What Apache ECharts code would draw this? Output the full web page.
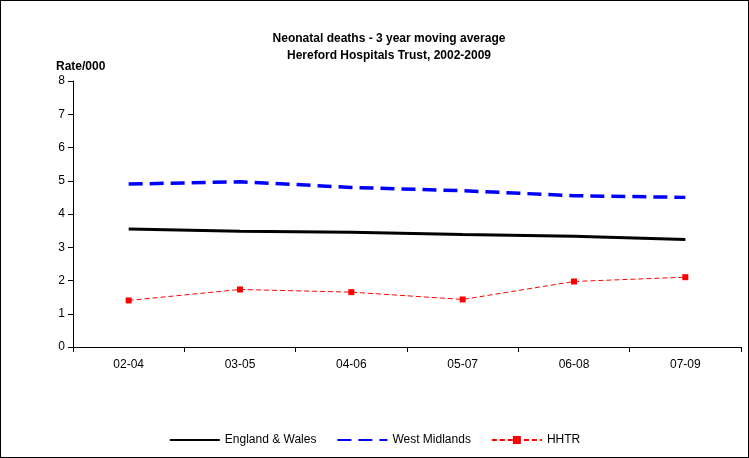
<!DOCTYPE html>
<html><head><meta charset="utf-8">
<script src="https://cdn.jsdelivr.net/npm/echarts@6/dist/echarts.min.js"></script>
<style>html,body{margin:0;padding:0;background:#fff}#c{width:749px;height:458px;box-sizing:border-box;border:1px solid #000}</style>
</head><body><div id="c"></div>
<script>
var categories = ['02-04','03-05','04-06','05-07','06-08','07-09'];
var englandWales = [3.55, 3.48, 3.45, 3.38, 3.33, 3.23];
var westMidlands = [4.9, 4.97, 4.8, 4.7, 4.55, 4.5];
var hhtr = [1.4, 1.73, 1.65, 1.43, 1.97, 2.1];

var chart = echarts.init(document.getElementById('c'));
chart.setOption({
  animation: false,
  textStyle: {fontFamily: 'Arial, Liberation Sans, sans-serif', color: '#000'},
  title: {
    text: 'Neonatal deaths - 3 year moving average\nHereford Hospitals Trust, 2002-2009',
    left: 383, top: 24, textAlign: 'center',
    textStyle: {fontSize: 12, fontWeight: 'bold', lineHeight: 17, color: '#000'}
  },
  graphic: [{type: 'text', left: 55, top: 60,
    style: {text: 'Rate/000', font: 'bold 12px Arial, Liberation Sans, sans-serif', fill: '#000'}}],
  legend: {
    bottom: 6, left: 'center', itemWidth: 50, itemHeight: 10, itemGap: 20,
    textStyle: {fontSize: 12, color: '#000'},
    data: [{name: 'England & Wales', itemStyle: {opacity: 0}},
           {name: 'West Midlands', itemStyle: {opacity: 0}},
           'HHTR']
  },
  grid: {left: 72, right: 7, top: 80, bottom: 110},
  xAxis: {
    type: 'category', data: categories, boundaryGap: true,
    axisLine: {lineStyle: {color: '#000'}},
    axisTick: {show: true, inside: false, lineStyle: {color: '#000'}},
    axisLabel: {color: '#000', fontSize: 12, margin: 12}
  },
  yAxis: {
    type: 'value', min: 0, max: 8, interval: 1,
    axisLine: {show: true, lineStyle: {color: '#000'}},
    axisTick: {show: true, lineStyle: {color: '#000'}},
    axisLabel: {color: '#000', fontSize: 12},
    splitLine: {show: false}
  },
  series: [
    {name: 'England & Wales', type: 'line', data: englandWales, symbol: 'none',
     lineStyle: {color: '#000', width: 3}, itemStyle: {color: '#000'}},
    {name: 'West Midlands', type: 'line', data: westMidlands, symbol: 'none',
     lineStyle: {color: '#0000ff', width: 3.5, type: [14, 7]}, itemStyle: {color: '#0000ff'}},
    {name: 'HHTR', type: 'line', data: hhtr, symbol: 'rect', symbolSize: 6,
     lineStyle: {color: '#ff0000', width: 1, type: [5, 3]}, itemStyle: {color: '#ff0000'}}
  ]
});
</script></body></html>
